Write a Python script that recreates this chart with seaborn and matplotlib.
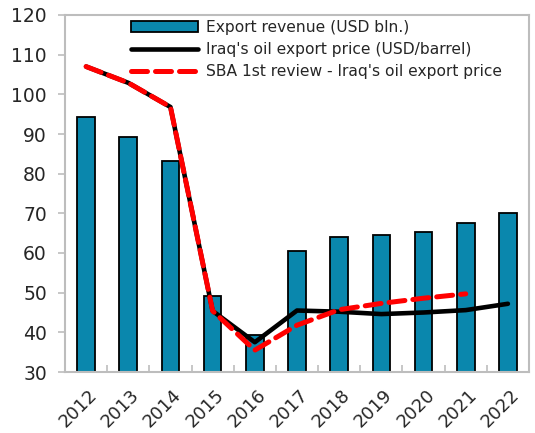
import numpy as np
import pandas as pd
import matplotlib
matplotlib.use('Agg')
import matplotlib.pyplot as plt
import matplotlib.transforms as mtransforms
import seaborn as sns
from matplotlib.ticker import MultipleLocator, FixedLocator

years = ['2012', '2013', '2014', '2015', '2016', '2017', '2018', '2019', '2020', '2021', '2022']
export_revenue = [94.2, 89.2, 83.1, 49.2, 39.4, 60.5, 64.0, 64.5, 65.4, 67.5, 70.0]
oil_price = [107.0, 102.9, 96.8, 45.4, 37.5, 45.5, 45.2, 44.6, 45.0, 45.6, 47.2]
sba_years = ['2012', '2013', '2014', '2015', '2016', '2017', '2018', '2019', '2020', '2021']
sba_price = [107.0, 102.9, 96.8, 45.4, 35.5, 41.8, 45.7, 47.3, 48.6, 49.7]

df = pd.DataFrame({'year': years, 'revenue': export_revenue, 'price': oil_price})
sba = pd.DataFrame({'year': sba_years, 'price': sba_price})

sns.set_style('white')
plt.rcParams['font.family'] = ['DejaVu Sans']

fig = plt.figure(figsize=(5.35, 4.33), dpi=100)
ax = fig.add_axes([65 / 535, 1 - 372 / 433, 464 / 535, 357 / 433])

sns.barplot(data=df, x='year', y='revenue', color='#0A87AD', saturation=1,
            edgecolor='black', linewidth=1.3, width=0.42, ax=ax,
            label='Export revenue (USD bln.)')
sns.lineplot(data=df, x='year', y='price', color='black', linewidth=3.3, ax=ax,
             label="Iraq's oil export price (USD/barrel)")
sns.lineplot(data=sba, x='year', y='price', color='#FF0000', linewidth=3.6, ax=ax,
             dashes=False, label="SBA 1st review - Iraq's oil export price")
ax.lines[-1].set_dashes([3.2, 1.6])
ax.lines[-1].set_dash_capstyle('round')

ax.set_xlim(-0.5, len(years) - 0.5)
ax.set_ylim(30, 120)
ax.yaxis.set_major_locator(MultipleLocator(10))
ax.set_xlabel('')
ax.set_ylabel('')

for s in ax.spines.values():
    s.set_color('#BDBDBD')
    s.set_linewidth(1.5)

ax.tick_params(axis='y', direction='out', length=5, width=1.2, color='#BDBDBD',
               labelsize=13.5, left=True, pad=8)
ax.tick_params(axis='x', which='major', length=0, labelsize=13, pad=10)
ax.xaxis.set_minor_locator(FixedLocator(np.arange(0.5, len(years) - 0.5, 1)))
ax.tick_params(axis='x', which='minor', direction='in', length=5, width=1.2,
               color='#BDBDBD', bottom=True)
shift = mtransforms.ScaledTranslation(2 / 100, 0, fig.dpi_scale_trans)
for lab in ax.get_xticklabels():
    lab.set_rotation(45)
    lab.set_ha('right')
    lab.set_rotation_mode('anchor')
    lab.set_transform(lab.get_transform() + shift)

handles, labels = ax.get_legend_handles_labels()
order = [labels.index('Export revenue (USD bln.)'),
         labels.index("Iraq's oil export price (USD/barrel)"),
         labels.index("SBA 1st review - Iraq's oil export price")]
fig.legend([handles[i] for i in order], [labels[i] for i in order],
           loc='upper left', bbox_to_anchor=(131 / 535, 1 - 20 / 433),
           frameon=False, fontsize=11.2, handlelength=4.3, handletextpad=0.55,
           borderpad=0, borderaxespad=0, labelspacing=0.45)
if ax.get_legend():
    ax.get_legend().remove()

fig.savefig('out.png', dpi=100)
